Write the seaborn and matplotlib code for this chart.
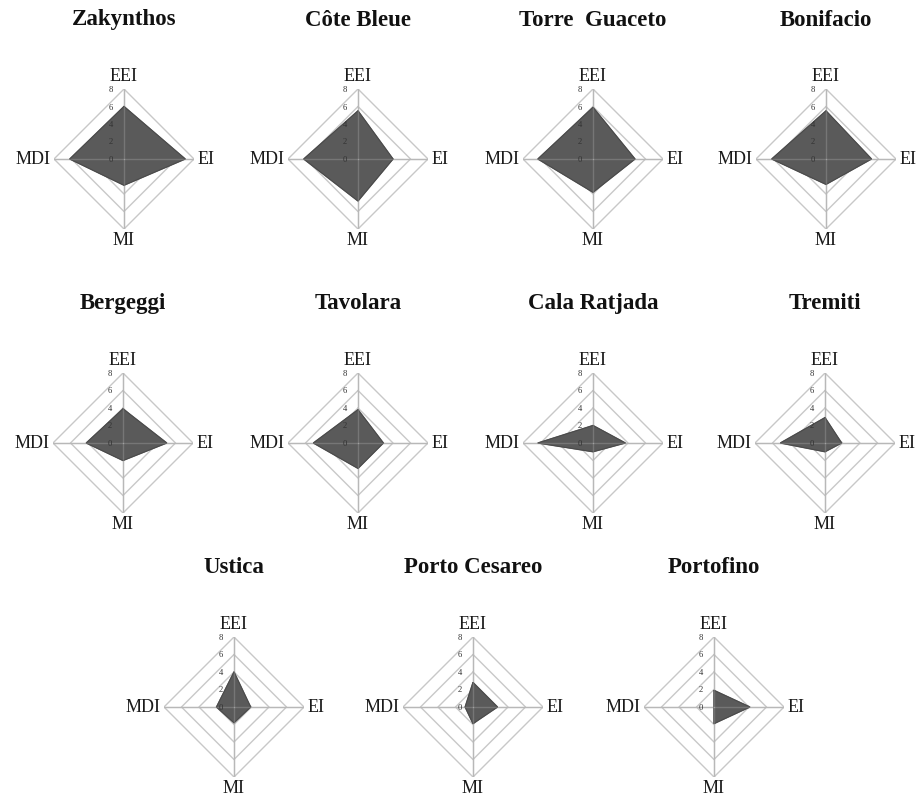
import numpy as np
import pandas as pd
import matplotlib
matplotlib.use("Agg")
import matplotlib.pyplot as plt
import seaborn as sns

# Index scores per marine protected area
sites = ["Zakynthos", "Côte Bleue", "Torre  Guaceto", "Bonifacio",
         "Bergeggi", "Tavolara", "Cala Ratjada", "Tremiti",
         "Ustica", "Porto Cesareo", "Portofino"]
indices = ["EEI", "EI", "MI", "MDI"]
eei = [6.0, 5.5, 5.9, 5.5, 3.9, 3.8, 2.0, 2.9, 4.0, 2.8, 1.9]
ei = [7.0, 4.0, 4.8, 5.2, 5.0, 2.9, 3.7, 1.9, 1.9, 2.8, 4.1]
mi = [3.0, 4.8, 3.8, 2.9, 2.0, 2.9, 1.0, 1.0, 1.8, 1.9, 1.9]
mdi = [6.2, 6.2, 6.3, 6.2, 4.2, 5.1, 6.3, 5.1, 2.0, 0.9, 0.0]
ticks = [0, 2, 4, 6, 8]

sns.set_theme(style="white")
plt.rcParams["font.family"] = ["Liberation Serif", "DejaVu Serif"]

W, H = 917, 803
fig = plt.figure(figsize=(W / 100, H / 100), dpi=100)
fig.patch.set_facecolor("white")

# panel centres in pixels (x, y from top) and radius of the outer ring
centres = [(124, 160), (358, 160), (593, 160), (826, 160),
           (123, 444), (358, 444), (593, 444), (825, 444),
           (234, 708), (473, 708), (714, 708)]
R = 70

theta = np.deg2rad([0, 90, 180, 270])
theta_closed = np.append(theta, theta[0])

grid_col = "#c8c8c8"
spoke_col = "#b8b8b8"
fill_col = "#5a5a5a"
edge_col = "#4a4a4a"

for i, site in enumerate(sites):
    cx, cy = centres[i]
    ax = fig.add_axes([(cx - R) / W, 1 - (cy + R) / H, 2 * R / W, 2 * R / H],
                      projection="polar")
    ax.set_theta_zero_location("N")
    ax.set_theta_direction(-1)
    ax.set_ylim(0, ticks[-1])
    ax.grid(False)
    ax.spines["polar"].set_visible(False)
    ax.set_xticks([])
    ax.set_yticks([])
    ax.patch.set_alpha(0)

    # diamond rings and spokes
    for t in ticks[1:]:
        ax.plot(theta_closed, [t] * 5, color=grid_col, lw=1.0, zorder=1)
    for th in theta:
        ax.plot([th, th], [0, ticks[-1]], color=spoke_col, lw=1.0, zorder=1)

    vals = [eei[i], ei[i], mi[i], mdi[i]]
    df = pd.DataFrame({"theta": theta_closed, "r": vals + [vals[0]]})
    ax.fill(df["theta"], df["r"], color=fill_col, zorder=2)
    sns.lineplot(data=df, x="theta", y="r", sort=False, estimator=None,
                 color=edge_col, lw=0.7, ax=ax, zorder=3, legend=False)
    ax.set_xlabel("")
    ax.set_ylabel("")

    # spokes show faintly through the filled area
    for th in theta:
        ax.plot([th, th], [0, ticks[-1]], color=spoke_col, lw=1.0,
                alpha=0.3, zorder=4)

    # radial tick labels along the EEI spoke
    for t in ticks:
        ax.annotate(str(t), xy=(0, t), xytext=(-13, 0),
                    textcoords="offset pixels", ha="center", va="center",
                    fontsize=6.2, color="#333333", zorder=5,
                    annotation_clip=False)

    # index labels
    ax.text(theta[0], 8.6, indices[0], ha="center", va="bottom",
            fontsize=13, color="#1a1a1a")
    ax.text(theta[1], 8.35, indices[1], ha="left", va="center",
            fontsize=13, color="#1a1a1a")
    ax.text(theta[2], 8.25, indices[2], ha="center", va="top",
            fontsize=13, color="#1a1a1a")
    ax.text(theta[3], 8.35, indices[3], ha="right", va="center",
            fontsize=13, color="#1a1a1a")

    ax.text(0.5, 0.5 + 140 / (2 * R), site, transform=ax.transAxes,
            ha="center", va="center", fontsize=16.5, fontweight="bold",
            color="#111111")

fig.savefig("out.png", dpi=100, facecolor="white")
